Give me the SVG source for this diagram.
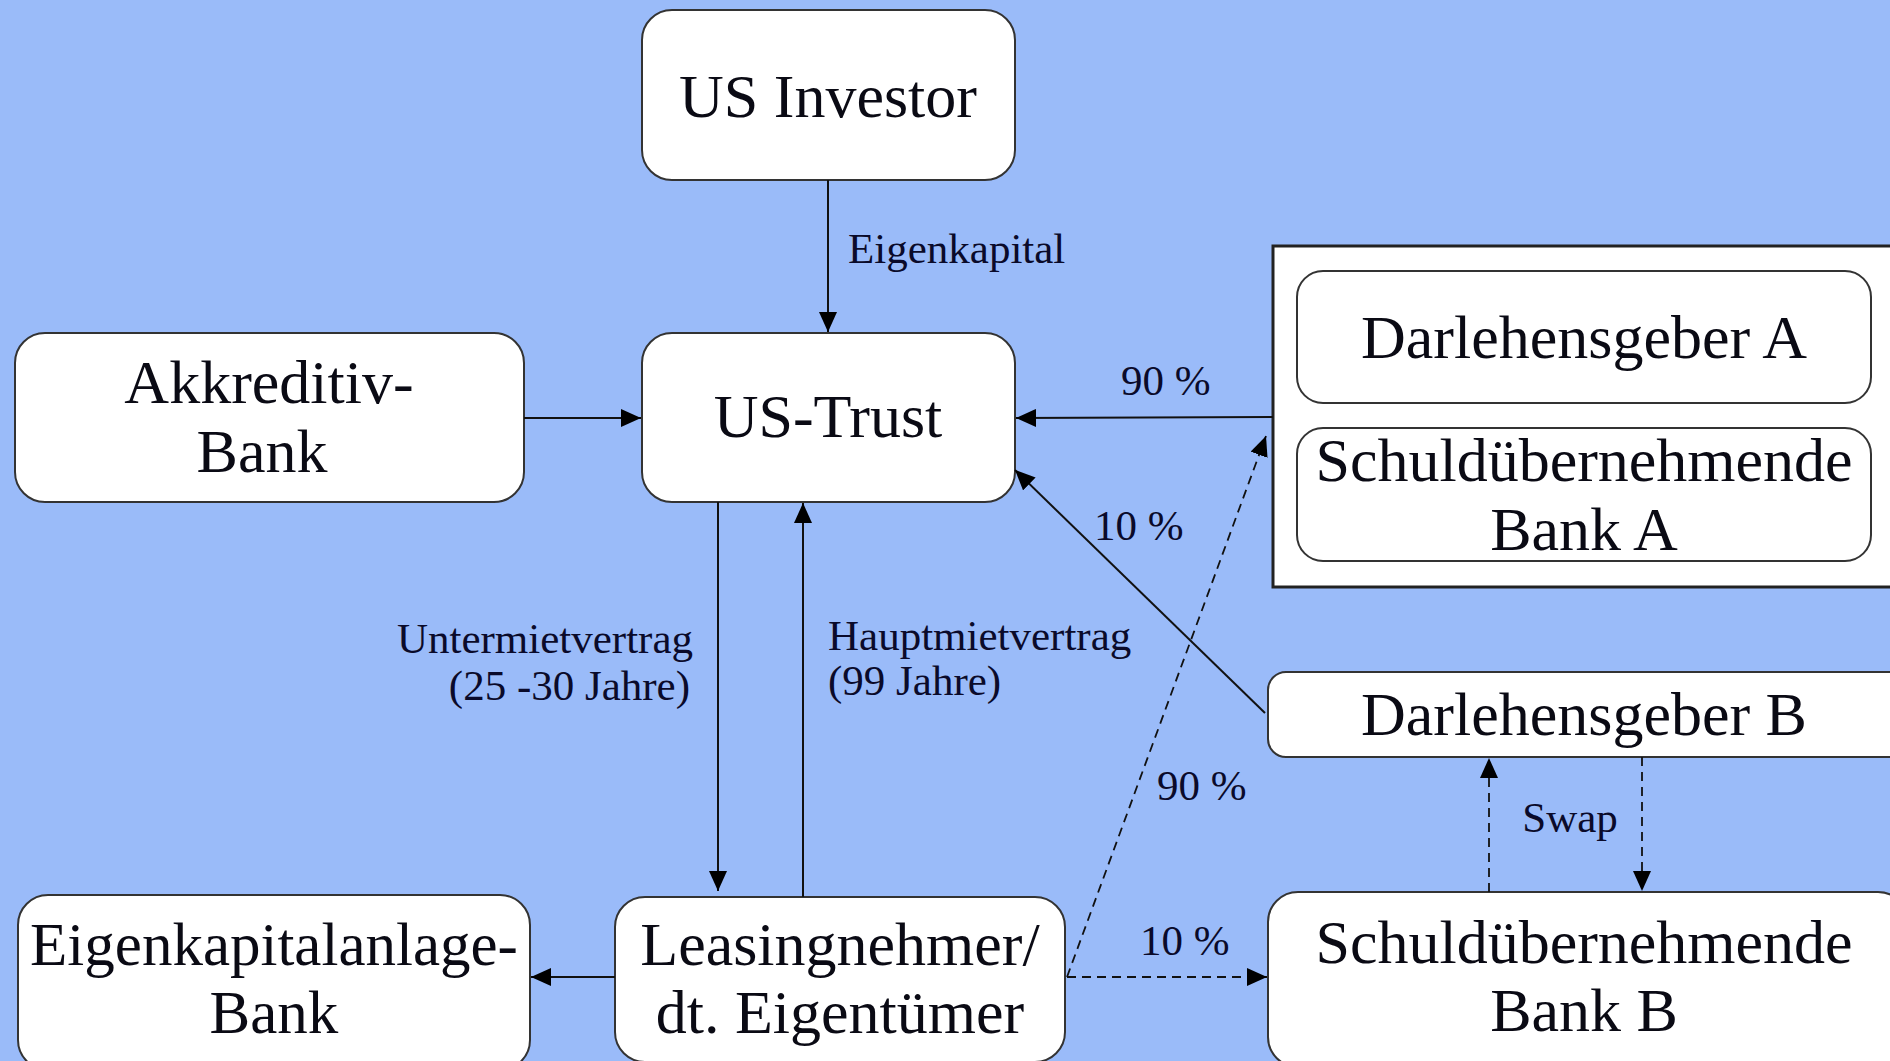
<svg xmlns="http://www.w3.org/2000/svg" width="1890" height="1061" viewBox="0 0 1890 1061">
<style>
.bg{fill:#9abbf9}
.box{fill:#ffffff;stroke:#333333;stroke-width:2}
.t{font-family:"Liberation Serif","Times New Roman",serif;font-size:62px;fill:#0a0a14;text-anchor:middle}
.l{font-family:"Liberation Serif","Times New Roman",serif;font-size:43px;fill:#0a0a2a}
.c{stroke:#111111;stroke-width:2;fill:none}
.d{stroke:#111111;stroke-width:1.8;fill:none;stroke-dasharray:9 6}
</style>
<defs>
<marker id="ah" markerUnits="userSpaceOnUse" markerWidth="22" markerHeight="18" refX="20" refY="9" orient="auto">
<path d="M0,0 L20,9 L0,18 z" fill="#000"/>
</marker>
</defs>
<rect class="bg" x="0" y="0" width="1890" height="1061"/>

<g id="group-A">
<rect x="1273" y="246" width="640" height="341" fill="#ffffff" stroke="#222222" stroke-width="3"/>
</g>

<g id="us-investor">
<rect class="box" x="642" y="10" width="373" height="170" rx="30"/>
<text class="t" x="828" y="117">US Investor</text>
</g>
<g id="us-trust">
<rect class="box" x="642" y="333" width="373" height="169" rx="30"/>
<text class="t" x="828" y="437">US-Trust</text>
</g>
<g id="akkreditiv-bank">
<rect class="box" x="15" y="333" width="509" height="169" rx="30"/>
<text class="t" x="269" y="403">Akkreditiv-</text>
<text class="t" x="262" y="472">Bank</text>
</g>
<g id="darlehensgeber-a">
<rect class="box" x="1297" y="271" width="574" height="132" rx="26"/>
<text class="t" x="1584" y="358">Darlehensgeber A</text>
</g>
<g id="schuld-a">
<rect class="box" x="1297" y="428" width="574" height="133" rx="26"/>
<text class="t" x="1584" y="481">Schuldübernehmende</text>
<text class="t" x="1584" y="550">Bank A</text>
</g>
<g id="darlehensgeber-b">
<rect class="box" x="1268" y="672" width="640" height="85" rx="18"/>
<text class="t" x="1584" y="735">Darlehensgeber B</text>
</g>
<g id="schuld-b">
<rect class="box" x="1268" y="892" width="640" height="175" rx="30"/>
<text class="t" x="1584" y="963">Schuldübernehmende</text>
<text class="t" x="1584" y="1031">Bank B</text>
</g>
<g id="eigenkapitalanlage-bank">
<rect class="box" x="18" y="895" width="512" height="175" rx="30"/>
<text class="t" x="274" y="965" style="font-size:61px">Eigenkapitalanlage-</text>
<text class="t" x="274" y="1033" style="font-size:61px">Bank</text>
</g>
<g id="leasingnehmer">
<rect class="box" x="615" y="897" width="450" height="165" rx="30"/>
<text class="t" x="840" y="965">Leasingnehmer/</text>
<text class="t" x="840" y="1033">dt. Eigentümer</text>
</g>

<g id="connectors">
<line class="c" x1="828" y1="180" x2="828" y2="332" marker-end="url(#ah)"/>
<line class="c" x1="524" y1="418" x2="641" y2="418" marker-end="url(#ah)"/>
<line class="c" x1="1273" y1="417" x2="1016" y2="418" marker-end="url(#ah)"/>
<line class="c" x1="1265" y1="713" x2="1015" y2="470" marker-end="url(#ah)"/>
<line class="c" x1="718" y1="502" x2="718" y2="891" marker-end="url(#ah)"/>
<line class="c" x1="803" y1="897" x2="803" y2="503" marker-end="url(#ah)"/>
<line class="c" x1="615" y1="977" x2="531" y2="977" marker-end="url(#ah)"/>
<line class="d" x1="1067" y1="977" x2="1266" y2="436" marker-end="url(#ah)"/>
<line class="d" x1="1067" y1="977" x2="1267" y2="977" marker-end="url(#ah)"/>
<line class="d" x1="1489" y1="892" x2="1489" y2="758" marker-end="url(#ah)"/>
<line class="d" x1="1642" y1="757" x2="1642" y2="891" marker-end="url(#ah)"/>
</g>

<g id="labels">
<text class="l" x="848" y="263">Eigenkapital</text>
<text class="l" x="1121" y="395">90 %</text>
<text class="l" x="1094" y="540">10 %</text>
<text class="l" x="693" y="653" text-anchor="end">Untermietvertrag</text>
<text class="l" x="690" y="700" text-anchor="end">(25 -30 Jahre)</text>
<text class="l" x="828" y="650">Hauptmietvertrag</text>
<text class="l" x="828" y="695">(99 Jahre)</text>
<text class="l" x="1157" y="800">90 %</text>
<text class="l" x="1140" y="955">10 %</text>
<text class="l" x="1570" y="832" text-anchor="middle">Swap</text>
</g>
</svg>
